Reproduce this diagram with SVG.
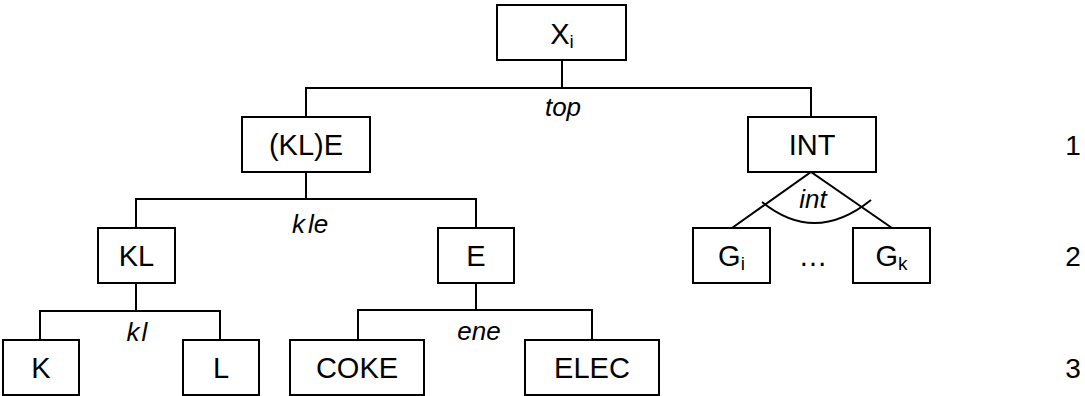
<svg xmlns="http://www.w3.org/2000/svg" width="1085" height="396" viewBox="0 0 1085 396">
<style>
.box{fill:#fff;stroke:#000;stroke-width:2}
.lbl{font-family:"Liberation Sans",Arial,sans-serif;font-size:29px;text-anchor:middle;fill:#000}
.sub{font-size:19px}
.it{font-family:"Liberation Sans",Arial,sans-serif;font-size:26px;font-style:italic;text-anchor:middle;fill:#000}
.num{font-family:"Liberation Sans",Arial,sans-serif;font-size:28px;text-anchor:middle;fill:#000}
.ln{fill:none;stroke:#000;stroke-width:2}
</style>
<rect width="1085" height="396" fill="#fff"/>
<g id="connectors">
<path class="ln" d="M562 60V88M306 117V88H811V117"/>
<path class="ln" d="M306 172V199M136 228V199H476V228"/>
<path class="ln" d="M136 283V311M40 340V311H220V340"/>
<path class="ln" d="M476 283V310M358 340V310H592V340"/>
<path class="ln" d="M732 228L811 172L892 228"/>
<path class="ln" d="M762 202Q815 245 871 200"/>
<text class="it" x="563" y="116">top</text>
<text class="it" x="310" y="233">k<tspan dx="3">le</tspan></text>
<text class="it" x="137" y="341">k<tspan dx="2">l</tspan></text>
<text class="it" x="479" y="340">ene</text>
<text class="it" x="813" y="208">int</text>
</g>
<g id="node-Xi"><rect class="box" x="497" y="5" width="129" height="55"/><text class="lbl" x="562" y="44">X<tspan class="sub" dy="4">i</tspan></text></g>
<g id="node-KLE"><rect class="box" x="242" y="117" width="128" height="55"/><text class="lbl" x="306" y="155">(KL)E</text></g>
<g id="node-INT"><rect class="box" x="748" y="117" width="128" height="55"/><text class="lbl" x="812" y="155">INT</text></g>
<g id="node-KL"><rect class="box" x="98" y="228" width="77" height="55"/><text class="lbl" x="136.5" y="266">KL</text></g>
<g id="node-E"><rect class="box" x="438" y="228" width="76" height="55"/><text class="lbl" x="476" y="266">E</text></g>
<g id="node-Gi"><rect class="box" x="693" y="228" width="77" height="55"/><text class="lbl" x="731.5" y="266">G<tspan class="sub" dy="4">i</tspan></text></g>
<g id="node-dots"><text class="lbl" x="813" y="266">…</text></g>
<g id="node-Gk"><rect class="box" x="853" y="228" width="77" height="55"/><text class="lbl" x="891.5" y="266">G<tspan class="sub" dy="4">k</tspan></text></g>
<g id="node-K"><rect class="box" x="3" y="340" width="76" height="55"/><text class="lbl" x="41" y="378">K</text></g>
<g id="node-L"><rect class="box" x="183" y="340" width="76" height="55"/><text class="lbl" x="221" y="378">L</text></g>
<g id="node-COKE"><rect class="box" x="290" y="340" width="134" height="55"/><text class="lbl" x="357" y="378">COKE</text></g>
<g id="node-ELEC"><rect class="box" x="525" y="340" width="134" height="55"/><text class="lbl" x="592" y="378">ELEC</text></g>
<g id="levels">
<text class="num" x="1073" y="155">1</text>
<text class="num" x="1073" y="266">2</text>
<text class="num" x="1073" y="378">3</text>
</g>
</svg>
